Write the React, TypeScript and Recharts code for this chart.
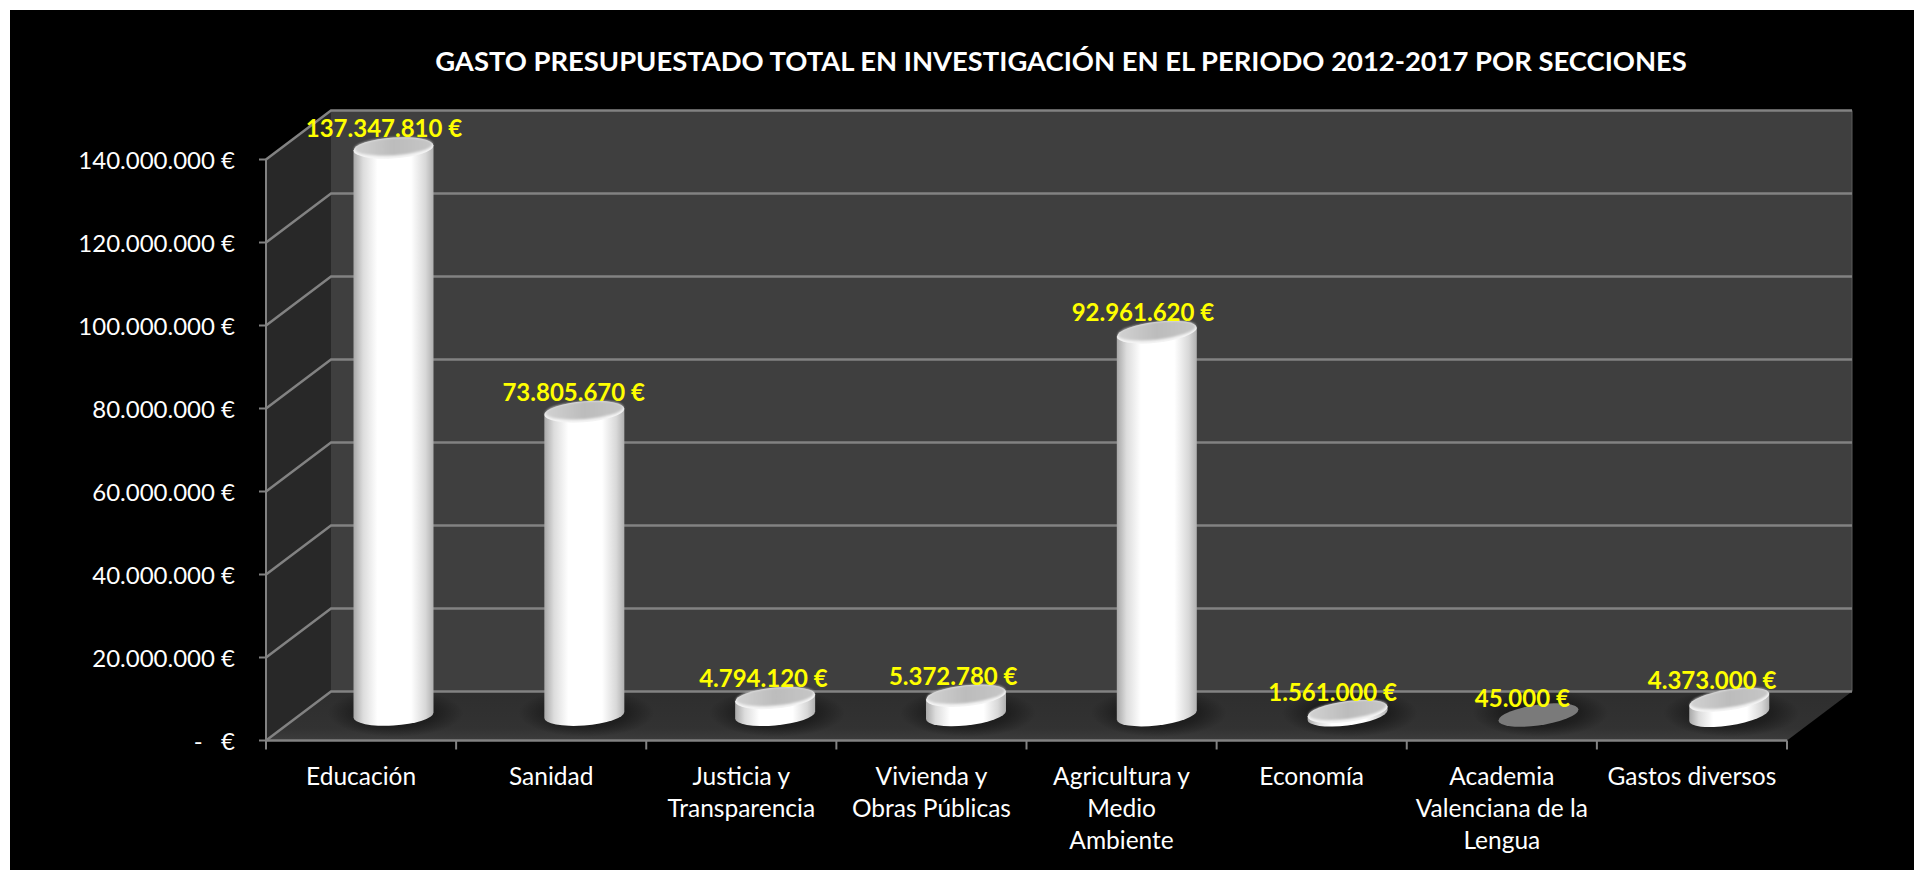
import { BarChart, Bar, XAxis, YAxis, CartesianGrid, LabelList } from "recharts";

const categories = [
  "Educación",
  "Sanidad",
  "Justicia y Transparencia",
  "Vivienda y Obras Públicas",
  "Agricultura y Medio Ambiente",
  "Economía",
  "Academia Valenciana de la Lengua",
  "Gastos diversos",
];
const tickLines = [
  ["Educación"],
  ["Sanidad"],
  ["Justicia y", "Transparencia"],
  ["Vivienda y", "Obras Públicas"],
  ["Agricultura y", "Medio", "Ambiente"],
  ["Economía"],
  ["Academia", "Valenciana de la", "Lengua"],
  ["Gastos diversos"],
];
const gasto = [137347810, 73805670, 4794120, 5372780, 92961620, 1561000, 45000, 4373000];
const yTicks = [0, 20000000, 40000000, 60000000, 80000000, 100000000, 120000000, 140000000];

const TITLE = "GASTO PRESUPUESTADO TOTAL EN INVESTIGACIÓN EN EL PERIODO 2012-2017 POR SECCIONES";
const FONT = "Lato, Carlito, sans-serif";

const data = categories.map((name, i) => ({ name, gasto: gasto[i] }));

// chart sits in the black panel, 10px in from the page corner
const PANEL = 10;
const W = 1904;
const H = 860;
const PLOT = { left: 256, top: 149.5, right: 1777, bottom: 730.5 };
const DEPTH_X = 65;
const DEPTH_Y = -49;
const BAND = (PLOT.right - PLOT.left) / categories.length;
const LINE = "#828282";

function euro(v: number) {
  if (v === 0) return "-\u00a0\u00a0\u00a0€";
  return String(v).replace(/\B(?=(\d{3})+$)/g, ".") + " €";
}

function Walls() {
  const { left: l, top: t, right: r, bottom: b } = PLOT;
  const dx = DEPTH_X;
  const dy = DEPTH_Y;
  return (
    <svg
      width={W}
      height={H}
      style={{ position: "absolute", left: 0, top: 0 }}
    >
      <defs>
        <linearGradient id="floorFill" x1="0" y1="0" x2="0" y2="1">
          <stop offset="0" stopColor="#2e2e2e" />
          <stop offset="0.75" stopColor="#323232" />
          <stop offset="1" stopColor="#3c3c3c" />
        </linearGradient>
      </defs>
      <polygon
        points={`${l + dx},${t + dy} ${r + dx},${t + dy} ${r + dx},${b + dy} ${l + dx},${b + dy}`}
        fill="#3f3f3f"
      />
      <polygon
        points={`${l},${t} ${l + dx},${t + dy} ${l + dx},${b + dy} ${l},${b}`}
        fill="#282828"
      />
      <polygon
        points={`${l},${b} ${l + dx},${b + dy} ${r + dx},${b + dy} ${r},${b}`}
        fill="url(#floorFill)"
      />
      <line x1={r + dx} y1={t + dy} x2={r + dx} y2={b + dy} stroke="#5c5c5c" strokeWidth={1} />
    </svg>
  );
}

function WallLine(props: any) {
  const { x1, y1, x2 } = props;
  return (
    <polyline
      points={`${x1},${y1} ${x1 + DEPTH_X},${y1 + DEPTH_Y} ${x2 + DEPTH_X},${y1 + DEPTH_Y}`}
      fill="none"
      stroke={LINE}
      strokeWidth={2.5}
    />
  );
}

function CategoryTick(props: any) {
  const { x, y, index } = props;
  const lines = tickLines[index] || [];
  return (
    <g>
      <line x1={x - BAND / 2} y1={y - 8} x2={x - BAND / 2} y2={y + 1} stroke={LINE} strokeWidth={2} />
      {index === categories.length - 1 && (
        <line x1={x + BAND / 2} y1={y - 8} x2={x + BAND / 2} y2={y + 1} stroke={LINE} strokeWidth={2} />
      )}
      {lines.map((l: string, i: number) => (
        <text key={l} x={x} y={y + 36 + i * 32} textAnchor="middle" fontSize={24.5} fill="#fff">
          {l}
        </text>
      ))}
    </g>
  );
}

// cylinder standing mid-depth on the floor, tilted a little more towards the right
function Cylinder(props: any) {
  const { x, y, width, height, index } = props;
  const cx = x + width / 2 + DEPTH_X / 2 + index * 0.7;
  const base = y + height + DEPTH_Y / 2 - 1;
  const top = Math.min(y + DEPTH_Y / 2 + 2, base);
  const rx = 40;
  const ry = 10.5;
  const t = Math.tan(((3.6 + index * 0.7) * Math.PI) / 180);
  const flat = height < 1;
  return (
    <g>
      <ellipse cx={cx + 2} cy={base - 2} rx={68} ry={24} fill="url(#baseShadow)" />
      <g transform={`matrix(1 ${-t} 0 1 ${cx} 0)`}>
        {flat ? (
          <ellipse cx={0} cy={base} rx={rx} ry={ry} fill="#7a7a7a" />
        ) : (
          <>
            <path
              d={`M ${-rx} ${top} L ${-rx} ${base} A ${rx} ${ry} 0 0 0 ${rx} ${base} L ${rx} ${top} Z`}
              fill="url(#cylBody)"
            />
            <ellipse cx={0} cy={top} rx={rx} ry={ry} fill="#f4f4f4" />
            <ellipse cx={0} cy={top - 1.5} rx={rx - 1} ry={ry - 1.5} fill="url(#cylTop)" filter="url(#soft)" />
          </>
        )}
      </g>
    </g>
  );
}

function BarLabel(props: any) {
  const { x, y, width, value, index } = props;
  return (
    <text
      x={x + width / 2 + 23 - index * 0.4}
      y={y - 43}
      textAnchor="middle"
      dominantBaseline="central"
      fontSize={24}
      fontWeight={700}
      fill="#ffff00"
    >
      {euro(value)}
    </text>
  );
}

export default function App() {
  return (
    <div style={{ position: "absolute", left: 0, top: 0, width: 1914, height: 870, background: "#fff", overflow: "hidden" }}>
      <div style={{ position: "absolute", left: PANEL, top: PANEL, width: W, height: H, background: "#000", fontFamily: FONT }}>
        <Walls />
        <div style={{ position: "absolute", left: 0, top: 0 }}>
          <BarChart
            width={W}
            height={H}
            data={data}
            barSize={80}
            margin={{ top: PLOT.top, right: W - PLOT.right, bottom: 0, left: 0 }}
          >
            <defs>
              <linearGradient id="cylBody" x1="0" y1="0" x2="1" y2="0">
                <stop offset="0" stopColor="#a8a8a8" />
                <stop offset="0.12" stopColor="#dcdcdc" />
                <stop offset="0.3" stopColor="#ffffff" />
                <stop offset="0.72" stopColor="#ffffff" />
                <stop offset="0.9" stopColor="#d8d8d8" />
                <stop offset="1" stopColor="#b0b0b0" />
              </linearGradient>
              <linearGradient id="cylTop" x1="0" y1="0" x2="1" y2="0">
                <stop offset="0" stopColor="#d2d2d2" />
                <stop offset="0.5" stopColor="#bcbcbc" />
                <stop offset="1" stopColor="#c6c6c6" />
              </linearGradient>
              <radialGradient id="baseShadow">
                <stop offset="0" stopColor="#000" stopOpacity={0.6} />
                <stop offset="0.6" stopColor="#000" stopOpacity={0.35} />
                <stop offset="1" stopColor="#000" stopOpacity={0} />
              </radialGradient>
              <filter id="soft" x="-5%" y="-20%" width="110%" height="140%">
                <feGaussianBlur stdDeviation="1" />
              </filter>
            </defs>
            <text x={1051} y={50} textAnchor="middle" dominantBaseline="central" fontSize={27.4} fontWeight={700} fill="#fff">
              {TITLE}
            </text>
            <CartesianGrid vertical={false} horizontal={(p: any) => <WallLine key={p.key} {...p} />} />
            <XAxis
              dataKey="name"
              interval={0}
              height={H - PLOT.bottom}
              axisLine={{ stroke: LINE, strokeWidth: 2.5 }}
              tickLine={false}
              tick={<CategoryTick />}
            />
            <YAxis
              width={PLOT.left}
              domain={[0, 140000000]}
              ticks={yTicks}
              interval={0}
              tickFormatter={euro}
              axisLine={{ stroke: LINE, strokeWidth: 2 }}
              tickLine={{ stroke: LINE, strokeWidth: 2 }}
              tickSize={7}
              tickMargin={24}
              tick={{ fill: "#fff", fontSize: 24, dy: 1 }}
            />
            <Bar dataKey="gasto" isAnimationActive={false} shape={<Cylinder />}>
              <LabelList dataKey="gasto" content={<BarLabel />} />
            </Bar>
          </BarChart>
        </div>
      </div>
    </div>
  );
}
